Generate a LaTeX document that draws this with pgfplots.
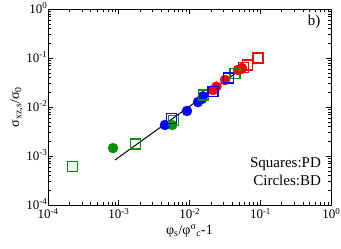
\documentclass[border=0pt]{standalone}
\usepackage{fontspec}
\setmainfont{Liberation Serif}
\usepackage{pgfplots}
\pgfplotsset{compat=1.18}
\definecolor{ggreen}{RGB}{0,150,0}
\definecolor{bblue}{RGB}{0,0,255}
\definecolor{rred}{RGB}{255,0,0}
\newcommand{\tp}[1]{10\raisebox{0.75ex}{\fontsize{9}{9}\selectfont #1}}
\begin{document}
\begin{tikzpicture}
\begin{axis}[
  name=ax,
  scale only axis, width=283pt, height=196pt,
  xmode=log, ymode=log,
  xmin=1e-4, xmax=1, ymin=1e-4, ymax=1,
  xtick={1e-4,1e-3,1e-2,1e-1,1},
  xticklabels={\tp{-4},\tp{-3},\tp{-2},\tp{-1},\tp{0}},
  ytick={1e-4,1e-3,1e-2,1e-1,1},
  yticklabels={\tp{-4},\tp{-3},\tp{-2},\tp{-1},\tp{0}},
  tick label style={font=\fontsize{13}{14}\selectfont},
  xticklabel style={inner xsep=0pt, yshift=0pt},
  yticklabel style={inner xsep=0pt, xshift=-1pt, yshift=1pt},
  tick align=inside, major tick length=5pt, minor tick length=3pt,
  xtick pos=both, ytick pos=both,
  axis line style={line width=0.8pt},
  every tick/.style={black, line width=0.5pt},
  xlabel={φ\textsubscript{s}/φ\textsuperscript{σ}\textsubscript{c}-1},
  ylabel={σ\textsubscript{xz,s}/σ\textsubscript{0}},
  label style={font=\fontsize{14}{15}\selectfont},
  xlabel style={yshift=2pt},
  ylabel style={yshift=0pt},
  clip=false,
]
% green circles
\addplot[only marks, mark=*, mark size=5pt, draw=ggreen, fill=ggreen] coordinates {
(8.3e-4,1.45e-3) (5.7e-3,4.3e-3)};
% blue circles
\addplot[only marks, mark=*, mark size=5pt, draw=bblue, fill=bblue] coordinates {
(4.5e-3,4.3e-3) (9.2e-3,8.3e-3) (0.0132,0.0126) (0.0150,0.0146) (0.0155,0.0165)};
% red circles
\addplot[only marks, mark=*, mark size=5pt, draw=rred, fill=rred] coordinates {
(0.0215,0.0222) (0.024,0.026) (0.0318,0.0356) (0.0485,0.0569) (0.055,0.0625) (0.052,0.058)};
% green squares
\addplot[only marks, mark=square, mark size=5pt, draw=ggreen, mark options={line width=1.1pt}] coordinates {
(2.25e-4,6.0e-4) (1.75e-3,1.76e-3) (6.0e-3,5.4e-3) (0.016,0.0176) (0.044,0.049)};
% blue squares
\addplot[only marks, mark=square, mark size=5pt, draw=bblue, mark options={line width=1.1pt}] coordinates {
(5.6e-3,5.9e-3) (0.0215,0.0203) (0.0361,0.039)};
% red squares
\addplot[only marks, mark=square, mark size=5pt, draw=rred, mark options={line width=1.1pt}] coordinates {
(0.058,0.063) (0.067,0.072) (0.093,0.1)};
\addplot[black, line width=1pt] coordinates {(8.85e-4,8.3e-4) (0.045,0.049)};
\node[anchor=east, font=\fontsize{15}{16}\selectfont] at (rel axis cs:0.975,0.934) {b)};
\node[anchor=east, font=\fontsize{15}{16}\selectfont, inner sep=0pt] at (rel axis cs:0.965,0.21) {Squares:PD};
\node[anchor=east, font=\fontsize{15}{16}\selectfont, inner sep=0pt] at (rel axis cs:0.965,0.125) {Circles:BD};
\end{axis}
\pgfresetboundingbox
\path[use as bounding box] ([xshift=-48pt,yshift=-44pt]ax.south west) rectangle ([xshift=10pt,yshift=9pt]ax.north east);
\end{tikzpicture}
\end{document}
